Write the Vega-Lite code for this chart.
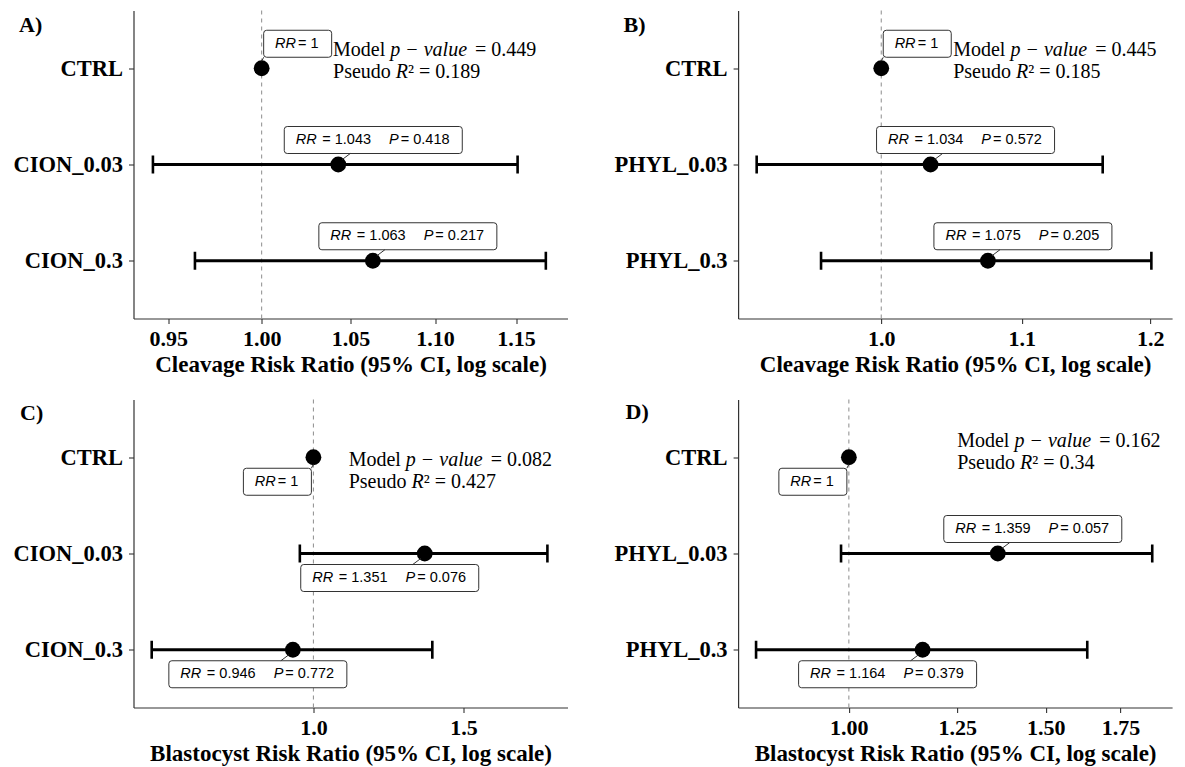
{
  "$schema": "https://vega.github.io/schema/vega-lite/v6.json",
  "background": "#ffffff",
  "padding": {"left": 12.5, "top": 9.5, "right": 5, "bottom": 0},
  "datasets": {
    "cleavage_cion": [
      {"term": "CTRL", "rr": 1, "lo": null, "hi": null, "p": null},
      {"term": "CION_0.03", "rr": 1.043, "lo": 0.942, "hi": 1.151, "p": 0.418},
      {"term": "CION_0.3", "rr": 1.063, "lo": 0.964, "hi": 1.169, "p": 0.217}
    ],
    "cleavage_phyl": [
      {"term": "CTRL", "rr": 1, "lo": null, "hi": null, "p": null},
      {"term": "PHYL_0.03", "rr": 1.034, "lo": 0.919, "hi": 1.162, "p": 0.572},
      {"term": "PHYL_0.3", "rr": 1.075, "lo": 0.96, "hi": 1.201, "p": 0.205}
    ],
    "blastocyst_cion": [
      {"term": "CTRL", "rr": 1, "lo": null, "hi": null, "p": null},
      {"term": "CION_0.03", "rr": 1.351, "lo": 0.964, "hi": 1.882, "p": 0.076},
      {"term": "CION_0.3", "rr": 0.946, "lo": 0.646, "hi": 1.379, "p": 0.772}
    ],
    "blastocyst_phyl": [
      {"term": "CTRL", "rr": 1, "lo": null, "hi": null, "p": null},
      {"term": "PHYL_0.03", "rr": 1.359, "lo": 0.984, "hi": 1.868, "p": 0.057},
      {"term": "PHYL_0.3", "rr": 1.164, "lo": 0.826, "hi": 1.634, "p": 0.379}
    ],
    "model_fit": [
      {"panel": "A", "model_p": 0.449, "pseudo_r2": 0.189},
      {"panel": "B", "model_p": 0.445, "pseudo_r2": 0.185},
      {"panel": "C", "model_p": 0.082, "pseudo_r2": 0.427},
      {"panel": "D", "model_p": 0.162, "pseudo_r2": 0.34}
    ]
  },
  "columns": 2,
  "spacing": {"row": 81, "column": 170.6},
  "bounds": "flush",
  "concat": [
    {
      "width": 434, "height": 308,
      "data": {"name": "cleavage_cion"},
      "layer": [
        {"data": {"values": [{"ref": 1}]}, "mark": {"type": "rule", "strokeDash": [4, 4], "color": "#8c8c8c", "strokeWidth": 1},
         "encoding": {"x": {"field": "ref", "type": "quantitative", "scale": {"type": "log", "domain": [0.932, 1.183], "nice": false, "zero": false}, "axis": {"title": "Cleavage Risk Ratio (95% CI, log scale)", "values": [0.95, 1, 1.05, 1.1, 1.15], "format": ".2f"}}}},
        {"transform": [{"filter": "datum.p != null"}], "mark": {"type": "rule", "strokeWidth": 2.8, "color": "#000000"},
         "encoding": {"x": {"field": "lo", "type": "quantitative"}, "x2": {"field": "hi"}, "y": {"field": "term", "type": "nominal"}}},
        {"transform": [{"filter": "datum.p != null"}], "mark": {"type": "tick", "size": 18, "thickness": 2.6, "color": "#000000", "opacity": 1},
         "encoding": {"x": {"field": "lo", "type": "quantitative"}, "y": {"field": "term", "type": "nominal"}}},
        {"transform": [{"filter": "datum.p != null"}], "mark": {"type": "tick", "size": 18, "thickness": 2.6, "color": "#000000", "opacity": 1},
         "encoding": {"x": {"field": "hi", "type": "quantitative"}, "y": {"field": "term", "type": "nominal"}}},
        {"mark": {"type": "circle", "size": 250, "color": "#000000", "opacity": 1},
         "encoding": {"x": {"field": "rr", "type": "quantitative"}, "y": {"field": "term", "type": "nominal", "scale": {"type": "point", "domain": ["CTRL", "CION_0.03", "CION_0.3"], "padding": 0.6}, "axis": {"title": "A)", "titleX": -115, "titleY": 20.5, "titleAngle": 0, "titleAlign": "left", "titleBaseline": "alphabetic", "titleFontSize": 22}}}},
        {"transform": [{"filter": "datum.p == null"}, {"calculate": "'= ' + format(datum.rr, '.3~f')", "as": "rr_txt"}],
         "encoding": {"x": {"field": "rr", "type": "quantitative"}, "y": {"field": "term", "type": "nominal"}},
         "layer": [
           {"mark": {"type": "point", "shape": "M0.05,-0.38L0.67,-0.38Q0.7,-0.38 0.7,-0.35L0.7,-0.14Q0.7,-0.11 0.67,-0.11L0.05,-0.11Q0.02,-0.11 0.02,-0.14L0.02,-0.35Q0.02,-0.38 0.05,-0.38Z", "size": 40000, "filled": true, "fill": "#ffffff", "stroke": "#333333", "strokeWidth": 1, "opacity": 1}},
           {"mark": {"type": "point", "shape": "M0,-0.07L0.02,-0.11", "size": 40000, "filled": false, "stroke": "#333333", "strokeWidth": 1, "opacity": 1}},
           {"mark": {"type": "text", "text": "RR", "fontStyle": "italic", "dx": 13.4, "dy": -24.5}},
           {"mark": {"type": "text", "dx": 36.4, "dy": -24.5}, "encoding": {"text": {"field": "rr_txt", "type": "nominal"}}}
         ]},
        {"transform": [{"filter": "datum.p != null"}, {"calculate": "'= ' + format(datum.rr, '.3~f')", "as": "rr_txt"}, {"calculate": "'= ' + format(datum.p, '.3f')", "as": "p_txt"}],
         "encoding": {"x": {"field": "rr", "type": "quantitative"}, "y": {"field": "term", "type": "nominal"}},
         "layer": [
           {"mark": {"type": "point", "shape": "M-0.51,-0.38L1.21,-0.38Q1.24,-0.38 1.24,-0.35L1.24,-0.14Q1.24,-0.11 1.21,-0.11L-0.51,-0.11Q-0.54,-0.11 -0.54,-0.14L-0.54,-0.35Q-0.54,-0.38 -0.51,-0.38Z", "size": 40000, "filled": true, "fill": "#ffffff", "stroke": "#333333", "strokeWidth": 1, "opacity": 1}},
           {"mark": {"type": "point", "shape": "M0.04,-0.05L0.12,-0.11", "size": 40000, "filled": false, "stroke": "#333333", "strokeWidth": 1, "opacity": 1}},
           {"mark": {"type": "text", "text": "RR", "fontStyle": "italic", "dx": -42.5, "dy": -24.5}},
           {"mark": {"type": "text", "dx": -16, "dy": -24.5}, "encoding": {"text": {"field": "rr_txt", "type": "nominal"}}},
           {"mark": {"type": "text", "text": "P", "fontStyle": "italic", "dx": 50.8, "dy": -24.5}},
           {"mark": {"type": "text", "dx": 62.5, "dy": -24.5}, "encoding": {"text": {"field": "p_txt", "type": "nominal"}}}
         ]},
        {"data": {"name": "model_fit"},
         "transform": [{"filter": "datum.panel == 'A'"}, {"calculate": "'= ' + format(datum.model_p, '.3~f')", "as": "p_line"}, {"calculate": "'² = ' + format(datum.pseudo_r2, '.3~f')", "as": "r2_line"}],
         "encoding": {"x": {"datum": 1.04, "type": "quantitative"}, "y": {"datum": "CTRL", "type": "nominal"}},
         "layer": [
           {"mark": {"type": "text", "text": "Model", "font": "Liberation Serif", "fontSize": 20, "baseline": "alphabetic", "dy": -12}},
           {"mark": {"type": "text", "text": "p − value", "font": "Liberation Serif", "fontStyle": "italic", "fontSize": 20, "baseline": "alphabetic", "dx": 57.2, "dy": -12}},
           {"mark": {"type": "text", "font": "Liberation Serif", "fontSize": 20, "baseline": "alphabetic", "dx": 142, "dy": -12}, "encoding": {"text": {"field": "p_line", "type": "nominal"}}},
           {"mark": {"type": "text", "text": "Pseudo", "font": "Liberation Serif", "fontSize": 20, "baseline": "alphabetic", "dy": 10}},
           {"mark": {"type": "text", "text": "R", "font": "Liberation Serif", "fontStyle": "italic", "fontSize": 20, "baseline": "alphabetic", "dx": 62.8, "dy": 10}},
           {"mark": {"type": "text", "font": "Liberation Serif", "fontSize": 20, "baseline": "alphabetic", "dx": 75, "dy": 10}, "encoding": {"text": {"field": "r2_line", "type": "nominal"}}}
         ]}
      ]
    },
    {
      "width": 434, "height": 308,
      "data": {"name": "cleavage_phyl"},
      "layer": [
        {"data": {"values": [{"ref": 1}]}, "mark": {"type": "rule", "strokeDash": [4, 4], "color": "#8c8c8c", "strokeWidth": 1},
         "encoding": {"x": {"field": "ref", "type": "quantitative", "scale": {"type": "log", "domain": [0.9075, 1.218], "nice": false, "zero": false}, "axis": {"title": "Cleavage Risk Ratio (95% CI, log scale)", "values": [1, 1.1, 1.2], "format": ".1f"}}}},
        {"transform": [{"filter": "datum.p != null"}], "mark": {"type": "rule", "strokeWidth": 2.8, "color": "#000000"},
         "encoding": {"x": {"field": "lo", "type": "quantitative"}, "x2": {"field": "hi"}, "y": {"field": "term", "type": "nominal"}}},
        {"transform": [{"filter": "datum.p != null"}], "mark": {"type": "tick", "size": 18, "thickness": 2.6, "color": "#000000", "opacity": 1},
         "encoding": {"x": {"field": "lo", "type": "quantitative"}, "y": {"field": "term", "type": "nominal"}}},
        {"transform": [{"filter": "datum.p != null"}], "mark": {"type": "tick", "size": 18, "thickness": 2.6, "color": "#000000", "opacity": 1},
         "encoding": {"x": {"field": "hi", "type": "quantitative"}, "y": {"field": "term", "type": "nominal"}}},
        {"mark": {"type": "circle", "size": 250, "color": "#000000", "opacity": 1},
         "encoding": {"x": {"field": "rr", "type": "quantitative"}, "y": {"field": "term", "type": "nominal", "scale": {"type": "point", "domain": ["CTRL", "PHYL_0.03", "PHYL_0.3"], "padding": 0.6}, "axis": {"title": "B)", "titleX": -115, "titleY": 20.5, "titleAngle": 0, "titleAlign": "left", "titleBaseline": "alphabetic", "titleFontSize": 22}}}},
        {"transform": [{"filter": "datum.p == null"}, {"calculate": "'= ' + format(datum.rr, '.3~f')", "as": "rr_txt"}],
         "encoding": {"x": {"field": "rr", "type": "quantitative"}, "y": {"field": "term", "type": "nominal"}},
         "layer": [
           {"mark": {"type": "point", "shape": "M0.05,-0.38L0.67,-0.38Q0.7,-0.38 0.7,-0.35L0.7,-0.14Q0.7,-0.11 0.67,-0.11L0.05,-0.11Q0.02,-0.11 0.02,-0.14L0.02,-0.35Q0.02,-0.38 0.05,-0.38Z", "size": 40000, "filled": true, "fill": "#ffffff", "stroke": "#333333", "strokeWidth": 1, "opacity": 1}},
           {"mark": {"type": "point", "shape": "M0,-0.07L0.02,-0.11", "size": 40000, "filled": false, "stroke": "#333333", "strokeWidth": 1, "opacity": 1}},
           {"mark": {"type": "text", "text": "RR", "fontStyle": "italic", "dx": 13.4, "dy": -24.5}},
           {"mark": {"type": "text", "dx": 36.4, "dy": -24.5}, "encoding": {"text": {"field": "rr_txt", "type": "nominal"}}}
         ]},
        {"transform": [{"filter": "datum.p != null"}, {"calculate": "'= ' + format(datum.rr, '.3~f')", "as": "rr_txt"}, {"calculate": "'= ' + format(datum.p, '.3f')", "as": "p_txt"}],
         "encoding": {"x": {"field": "rr", "type": "quantitative"}, "y": {"field": "term", "type": "nominal"}},
         "layer": [
           {"mark": {"type": "point", "shape": "M-0.51,-0.38L1.21,-0.38Q1.24,-0.38 1.24,-0.35L1.24,-0.14Q1.24,-0.11 1.21,-0.11L-0.51,-0.11Q-0.54,-0.11 -0.54,-0.14L-0.54,-0.35Q-0.54,-0.38 -0.51,-0.38Z", "size": 40000, "filled": true, "fill": "#ffffff", "stroke": "#333333", "strokeWidth": 1, "opacity": 1}},
           {"mark": {"type": "point", "shape": "M0.04,-0.05L0.12,-0.11", "size": 40000, "filled": false, "stroke": "#333333", "strokeWidth": 1, "opacity": 1}},
           {"mark": {"type": "text", "text": "RR", "fontStyle": "italic", "dx": -42.5, "dy": -24.5}},
           {"mark": {"type": "text", "dx": -16, "dy": -24.5}, "encoding": {"text": {"field": "rr_txt", "type": "nominal"}}},
           {"mark": {"type": "text", "text": "P", "fontStyle": "italic", "dx": 50.8, "dy": -24.5}},
           {"mark": {"type": "text", "dx": 62.5, "dy": -24.5}, "encoding": {"text": {"field": "p_txt", "type": "nominal"}}}
         ]},
        {"data": {"name": "model_fit"},
         "transform": [{"filter": "datum.panel == 'B'"}, {"calculate": "'= ' + format(datum.model_p, '.3~f')", "as": "p_line"}, {"calculate": "'² = ' + format(datum.pseudo_r2, '.3~f')", "as": "r2_line"}],
         "encoding": {"x": {"datum": 1.05, "type": "quantitative"}, "y": {"datum": "CTRL", "type": "nominal"}},
         "layer": [
           {"mark": {"type": "text", "text": "Model", "font": "Liberation Serif", "fontSize": 20, "baseline": "alphabetic", "dy": -12}},
           {"mark": {"type": "text", "text": "p − value", "font": "Liberation Serif", "fontStyle": "italic", "fontSize": 20, "baseline": "alphabetic", "dx": 57.2, "dy": -12}},
           {"mark": {"type": "text", "font": "Liberation Serif", "fontSize": 20, "baseline": "alphabetic", "dx": 142, "dy": -12}, "encoding": {"text": {"field": "p_line", "type": "nominal"}}},
           {"mark": {"type": "text", "text": "Pseudo", "font": "Liberation Serif", "fontSize": 20, "baseline": "alphabetic", "dy": 10}},
           {"mark": {"type": "text", "text": "R", "font": "Liberation Serif", "fontStyle": "italic", "fontSize": 20, "baseline": "alphabetic", "dx": 62.8, "dy": 10}},
           {"mark": {"type": "text", "font": "Liberation Serif", "fontSize": 20, "baseline": "alphabetic", "dx": 75, "dy": 10}, "encoding": {"text": {"field": "r2_line", "type": "nominal"}}}
         ]}
      ]
    },
    {
      "width": 434, "height": 308,
      "data": {"name": "blastocyst_cion"},
      "layer": [
        {"data": {"values": [{"ref": 1}]}, "mark": {"type": "rule", "strokeDash": [4, 4], "color": "#8c8c8c", "strokeWidth": 1},
         "encoding": {"x": {"field": "ref", "type": "quantitative", "scale": {"type": "log", "domain": [0.615, 1.987], "nice": false, "zero": false}, "axis": {"title": "Blastocyst Risk Ratio (95% CI, log scale)", "values": [1, 1.5], "format": ".1f"}}}},
        {"transform": [{"filter": "datum.p != null"}], "mark": {"type": "rule", "strokeWidth": 2.8, "color": "#000000"},
         "encoding": {"x": {"field": "lo", "type": "quantitative"}, "x2": {"field": "hi"}, "y": {"field": "term", "type": "nominal"}}},
        {"transform": [{"filter": "datum.p != null"}], "mark": {"type": "tick", "size": 18, "thickness": 2.6, "color": "#000000", "opacity": 1},
         "encoding": {"x": {"field": "lo", "type": "quantitative"}, "y": {"field": "term", "type": "nominal"}}},
        {"transform": [{"filter": "datum.p != null"}], "mark": {"type": "tick", "size": 18, "thickness": 2.6, "color": "#000000", "opacity": 1},
         "encoding": {"x": {"field": "hi", "type": "quantitative"}, "y": {"field": "term", "type": "nominal"}}},
        {"mark": {"type": "circle", "size": 250, "color": "#000000", "opacity": 1},
         "encoding": {"x": {"field": "rr", "type": "quantitative"}, "y": {"field": "term", "type": "nominal", "scale": {"type": "point", "domain": ["CTRL", "CION_0.03", "CION_0.3"], "padding": 0.6}, "axis": {"title": "C)", "titleX": -114, "titleY": 20, "titleAngle": 0, "titleAlign": "left", "titleBaseline": "alphabetic", "titleFontSize": 22}}}},
        {"transform": [{"filter": "datum.p == null"}, {"calculate": "'= ' + format(datum.rr, '.3~f')", "as": "rr_txt"}],
         "encoding": {"x": {"field": "rr", "type": "quantitative"}, "y": {"field": "term", "type": "nominal"}},
         "layer": [
           {"mark": {"type": "point", "shape": "M-0.05,0.38L-0.67,0.38Q-0.7,0.38 -0.7,0.35L-0.7,0.14Q-0.7,0.11 -0.67,0.11L-0.05,0.11Q-0.02,0.11 -0.02,0.14L-0.02,0.35Q-0.02,0.38 -0.05,0.38Z", "size": 40000, "filled": true, "fill": "#ffffff", "stroke": "#333333", "strokeWidth": 1, "opacity": 1}},
           {"mark": {"type": "point", "shape": "M0,0.07L-0.02,0.11", "size": 40000, "filled": false, "stroke": "#333333", "strokeWidth": 1, "opacity": 1}},
           {"mark": {"type": "text", "text": "RR", "fontStyle": "italic", "dx": -58.6, "dy": 24.5}},
           {"mark": {"type": "text", "dx": -35.6, "dy": 24.5}, "encoding": {"text": {"field": "rr_txt", "type": "nominal"}}}
         ]},
        {"transform": [{"filter": "datum.p != null"}, {"calculate": "'= ' + format(datum.rr, '.3~f')", "as": "rr_txt"}, {"calculate": "'= ' + format(datum.p, '.3f')", "as": "p_txt"}],
         "encoding": {"x": {"field": "rr", "type": "quantitative"}, "y": {"field": "term", "type": "nominal"}},
         "layer": [
           {"mark": {"type": "point", "shape": "M0.51,0.38L-1.21,0.38Q-1.24,0.38 -1.24,0.35L-1.24,0.14Q-1.24,0.11 -1.21,0.11L0.51,0.11Q0.54,0.11 0.54,0.14L0.54,0.35Q0.54,0.38 0.51,0.38Z", "size": 40000, "filled": true, "fill": "#ffffff", "stroke": "#333333", "strokeWidth": 1, "opacity": 1}},
           {"mark": {"type": "point", "shape": "M-0.04,0.05L-0.12,0.11", "size": 40000, "filled": false, "stroke": "#333333", "strokeWidth": 1, "opacity": 1}},
           {"mark": {"type": "text", "text": "RR", "fontStyle": "italic", "dx": -112.5, "dy": 24.5}},
           {"mark": {"type": "text", "dx": -86, "dy": 24.5}, "encoding": {"text": {"field": "rr_txt", "type": "nominal"}}},
           {"mark": {"type": "text", "text": "P", "fontStyle": "italic", "dx": -19.2, "dy": 24.5}},
           {"mark": {"type": "text", "dx": -7.5, "dy": 24.5}, "encoding": {"text": {"field": "p_txt", "type": "nominal"}}}
         ]},
        {"data": {"name": "model_fit"},
         "transform": [{"filter": "datum.panel == 'C'"}, {"calculate": "'= ' + format(datum.model_p, '.3~f')", "as": "p_line"}, {"calculate": "'² = ' + format(datum.pseudo_r2, '.3~f')", "as": "r2_line"}],
         "encoding": {"x": {"datum": 1.1, "type": "quantitative"}, "y": {"datum": "CTRL", "type": "nominal"}},
         "layer": [
           {"mark": {"type": "text", "text": "Model", "font": "Liberation Serif", "fontSize": 20, "baseline": "alphabetic", "dy": 9}},
           {"mark": {"type": "text", "text": "p − value", "font": "Liberation Serif", "fontStyle": "italic", "fontSize": 20, "baseline": "alphabetic", "dx": 57.2, "dy": 9}},
           {"mark": {"type": "text", "font": "Liberation Serif", "fontSize": 20, "baseline": "alphabetic", "dx": 142, "dy": 9}, "encoding": {"text": {"field": "p_line", "type": "nominal"}}},
           {"mark": {"type": "text", "text": "Pseudo", "font": "Liberation Serif", "fontSize": 20, "baseline": "alphabetic", "dy": 31}},
           {"mark": {"type": "text", "text": "R", "font": "Liberation Serif", "fontStyle": "italic", "fontSize": 20, "baseline": "alphabetic", "dx": 62.8, "dy": 31}},
           {"mark": {"type": "text", "font": "Liberation Serif", "fontSize": 20, "baseline": "alphabetic", "dx": 75, "dy": 31}, "encoding": {"text": {"field": "r2_line", "type": "nominal"}}}
         ]}
      ]
    },
    {
      "width": 434, "height": 308,
      "data": {"name": "blastocyst_phyl"},
      "layer": [
        {"data": {"values": [{"ref": 1}]}, "mark": {"type": "rule", "strokeDash": [4, 4], "color": "#8c8c8c", "strokeWidth": 1},
         "encoding": {"x": {"field": "ref", "type": "quantitative", "scale": {"type": "log", "domain": [0.796, 1.946], "nice": false, "zero": false}, "axis": {"title": "Blastocyst Risk Ratio (95% CI, log scale)", "values": [1, 1.25, 1.5, 1.75], "format": ".2f"}}}},
        {"transform": [{"filter": "datum.p != null"}], "mark": {"type": "rule", "strokeWidth": 2.8, "color": "#000000"},
         "encoding": {"x": {"field": "lo", "type": "quantitative"}, "x2": {"field": "hi"}, "y": {"field": "term", "type": "nominal"}}},
        {"transform": [{"filter": "datum.p != null"}], "mark": {"type": "tick", "size": 18, "thickness": 2.6, "color": "#000000", "opacity": 1},
         "encoding": {"x": {"field": "lo", "type": "quantitative"}, "y": {"field": "term", "type": "nominal"}}},
        {"transform": [{"filter": "datum.p != null"}], "mark": {"type": "tick", "size": 18, "thickness": 2.6, "color": "#000000", "opacity": 1},
         "encoding": {"x": {"field": "hi", "type": "quantitative"}, "y": {"field": "term", "type": "nominal"}}},
        {"mark": {"type": "circle", "size": 250, "color": "#000000", "opacity": 1},
         "encoding": {"x": {"field": "rr", "type": "quantitative"}, "y": {"field": "term", "type": "nominal", "scale": {"type": "point", "domain": ["CTRL", "PHYL_0.03", "PHYL_0.3"], "padding": 0.6}, "axis": {"title": "D)", "titleX": -113, "titleY": 18.5, "titleAngle": 0, "titleAlign": "left", "titleBaseline": "alphabetic", "titleFontSize": 22}}}},
        {"transform": [{"filter": "datum.p == null"}, {"calculate": "'= ' + format(datum.rr, '.3~f')", "as": "rr_txt"}],
         "encoding": {"x": {"field": "rr", "type": "quantitative"}, "y": {"field": "term", "type": "nominal"}},
         "layer": [
           {"mark": {"type": "point", "shape": "M-0.05,0.38L-0.67,0.38Q-0.7,0.38 -0.7,0.35L-0.7,0.14Q-0.7,0.11 -0.67,0.11L-0.05,0.11Q-0.02,0.11 -0.02,0.14L-0.02,0.35Q-0.02,0.38 -0.05,0.38Z", "size": 40000, "filled": true, "fill": "#ffffff", "stroke": "#333333", "strokeWidth": 1, "opacity": 1}},
           {"mark": {"type": "point", "shape": "M0,0.07L-0.02,0.11", "size": 40000, "filled": false, "stroke": "#333333", "strokeWidth": 1, "opacity": 1}},
           {"mark": {"type": "text", "text": "RR", "fontStyle": "italic", "dx": -58.6, "dy": 24.5}},
           {"mark": {"type": "text", "dx": -35.6, "dy": 24.5}, "encoding": {"text": {"field": "rr_txt", "type": "nominal"}}}
         ]},
        {"transform": [{"filter": "datum.term == 'PHYL_0.03'"}, {"calculate": "'= ' + format(datum.rr, '.3~f')", "as": "rr_txt"}, {"calculate": "'= ' + format(datum.p, '.3f')", "as": "p_txt"}],
         "encoding": {"x": {"field": "rr", "type": "quantitative"}, "y": {"field": "term", "type": "nominal"}},
         "layer": [
           {"mark": {"type": "point", "shape": "M-0.51,-0.38L1.21,-0.38Q1.24,-0.38 1.24,-0.35L1.24,-0.14Q1.24,-0.11 1.21,-0.11L-0.51,-0.11Q-0.54,-0.11 -0.54,-0.14L-0.54,-0.35Q-0.54,-0.38 -0.51,-0.38Z", "size": 40000, "filled": true, "fill": "#ffffff", "stroke": "#333333", "strokeWidth": 1, "opacity": 1}},
           {"mark": {"type": "point", "shape": "M0.04,-0.05L0.12,-0.11", "size": 40000, "filled": false, "stroke": "#333333", "strokeWidth": 1, "opacity": 1}},
           {"mark": {"type": "text", "text": "RR", "fontStyle": "italic", "dx": -42.5, "dy": -24.5}},
           {"mark": {"type": "text", "dx": -16, "dy": -24.5}, "encoding": {"text": {"field": "rr_txt", "type": "nominal"}}},
           {"mark": {"type": "text", "text": "P", "fontStyle": "italic", "dx": 50.8, "dy": -24.5}},
           {"mark": {"type": "text", "dx": 62.5, "dy": -24.5}, "encoding": {"text": {"field": "p_txt", "type": "nominal"}}}
         ]},
        {"transform": [{"filter": "datum.term == 'PHYL_0.3'"}, {"calculate": "'= ' + format(datum.rr, '.3~f')", "as": "rr_txt"}, {"calculate": "'= ' + format(datum.p, '.3f')", "as": "p_txt"}],
         "encoding": {"x": {"field": "rr", "type": "quantitative"}, "y": {"field": "term", "type": "nominal"}},
         "layer": [
           {"mark": {"type": "point", "shape": "M0.51,0.38L-1.21,0.38Q-1.24,0.38 -1.24,0.35L-1.24,0.14Q-1.24,0.11 -1.21,0.11L0.51,0.11Q0.54,0.11 0.54,0.14L0.54,0.35Q0.54,0.38 0.51,0.38Z", "size": 40000, "filled": true, "fill": "#ffffff", "stroke": "#333333", "strokeWidth": 1, "opacity": 1}},
           {"mark": {"type": "point", "shape": "M-0.04,0.05L-0.12,0.11", "size": 40000, "filled": false, "stroke": "#333333", "strokeWidth": 1, "opacity": 1}},
           {"mark": {"type": "text", "text": "RR", "fontStyle": "italic", "dx": -112.5, "dy": 24.5}},
           {"mark": {"type": "text", "dx": -86, "dy": 24.5}, "encoding": {"text": {"field": "rr_txt", "type": "nominal"}}},
           {"mark": {"type": "text", "text": "P", "fontStyle": "italic", "dx": -19.2, "dy": 24.5}},
           {"mark": {"type": "text", "dx": -7.5, "dy": 24.5}, "encoding": {"text": {"field": "p_txt", "type": "nominal"}}}
         ]},
        {"data": {"name": "model_fit"},
         "transform": [{"filter": "datum.panel == 'D'"}, {"calculate": "'= ' + format(datum.model_p, '.3~f')", "as": "p_line"}, {"calculate": "'² = ' + format(datum.pseudo_r2, '.3~f')", "as": "r2_line"}],
         "encoding": {"x": {"datum": 1.25, "type": "quantitative"}, "y": {"datum": "CTRL", "type": "nominal"}},
         "layer": [
           {"mark": {"type": "text", "text": "Model", "font": "Liberation Serif", "fontSize": 20, "baseline": "alphabetic", "dy": -10.5}},
           {"mark": {"type": "text", "text": "p − value", "font": "Liberation Serif", "fontStyle": "italic", "fontSize": 20, "baseline": "alphabetic", "dx": 57.2, "dy": -10.5}},
           {"mark": {"type": "text", "font": "Liberation Serif", "fontSize": 20, "baseline": "alphabetic", "dx": 142, "dy": -10.5}, "encoding": {"text": {"field": "p_line", "type": "nominal"}}},
           {"mark": {"type": "text", "text": "Pseudo", "font": "Liberation Serif", "fontSize": 20, "baseline": "alphabetic", "dy": 11.5}},
           {"mark": {"type": "text", "text": "R", "font": "Liberation Serif", "fontStyle": "italic", "fontSize": 20, "baseline": "alphabetic", "dx": 62.8, "dy": 11.5}},
           {"mark": {"type": "text", "font": "Liberation Serif", "fontSize": 20, "baseline": "alphabetic", "dx": 75, "dy": 11.5}, "encoding": {"text": {"field": "r2_line", "type": "nominal"}}}
         ]}
      ]
    }
  ],
  "config": {
    "view": {"stroke": null},
    "font": "Liberation Serif",
    "axis": {"domainColor": "#333333", "domainWidth": 1.2, "tickColor": "#333333", "tickWidth": 1.1, "tickSize": 5, "labelFont": "Liberation Serif", "labelFontWeight": "bold", "labelFontSize": 22, "labelColor": "#000000", "titleFont": "Liberation Serif", "titleFontWeight": "bold", "titleFontSize": 23, "titleColor": "#000000", "grid": false},
    "axisX": {"labelPadding": 5, "titlePadding": 4, "labelFlush": false, "labelOverlap": false},
    "axisY": {"labelPadding": 6, "labelFontSize": 22.5},
    "text": {"font": "Liberation Sans", "fontSize": 14.5, "align": "left", "baseline": "middle", "color": "#000000"}
  }
}
